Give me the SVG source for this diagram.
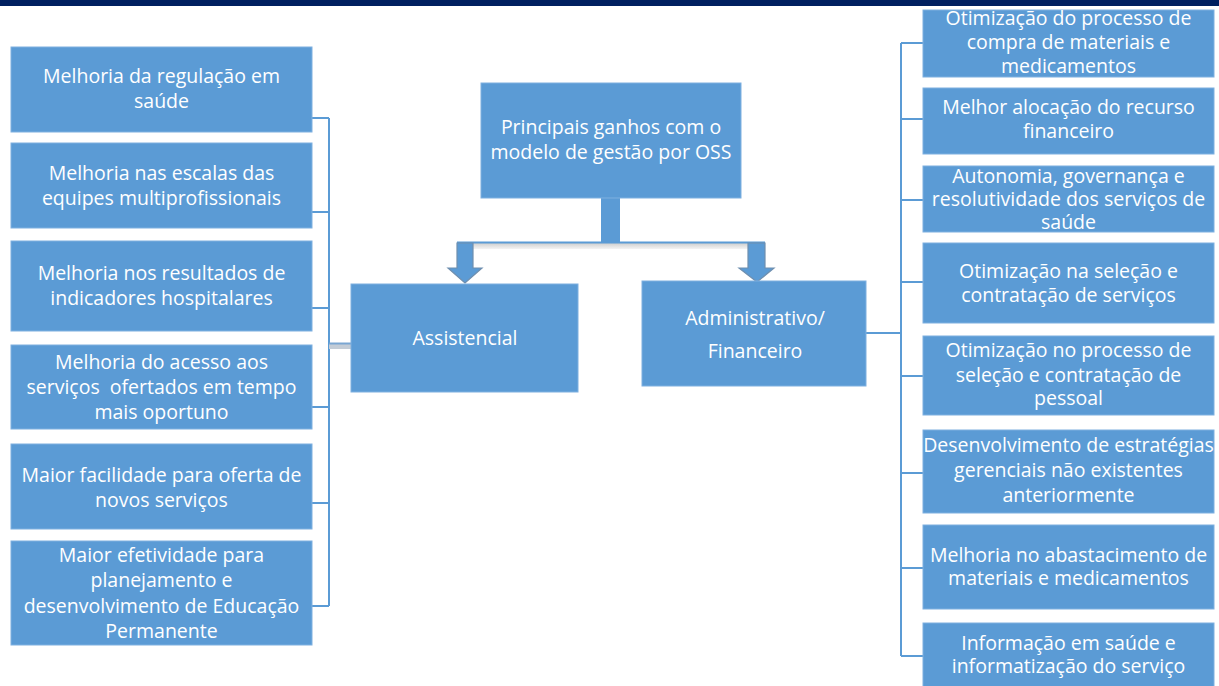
<svg xmlns="http://www.w3.org/2000/svg" width="1219" height="686" viewBox="0 0 1219 686">
<defs>
<style>
.box{fill:#5b9bd5;stroke:#7fb0e0;stroke-width:1}
.t{font-family:"Open Sans","Liberation Sans",sans-serif;font-size:19.5px;fill:#ffffff;text-anchor:middle}
.ln{stroke:#5b9bd5;stroke-width:2;fill:none}
.arr{fill:#5b9bd5;stroke:#6f8faf;stroke-width:1.2}
</style>
<linearGradient id="sh" x1="0" y1="0" x2="0" y2="1">
<stop offset="0" stop-color="#c8c8c8"/>
<stop offset="1" stop-color="#f4f4f4"/>
</linearGradient>
</defs>
<rect x="0" y="0" width="1219" height="686" fill="#ffffff"/>
<rect x="0" y="0" width="1219" height="6" fill="#002060"/>

<g id="connectors">
<rect x="601" y="197" width="19" height="46" fill="#5b9bd5"/>
<rect x="457" y="242" width="308" height="7" fill="url(#sh)"/>
<line x1="457" y1="242.5" x2="765" y2="242.5" stroke="#5b9bd5" stroke-width="2"/>
<polygon class="arr" points="457,243 473,243 473,268 482,268 465,283 448,268 457,268"/>
<polygon class="arr" points="748,243 765,243 765,268 774,268 757,282 739,268 748,268"/>
<path class="ln" d="M312,118 H329 M312,212 H329 M312,308 H329 M312,407 H329 M312,503 H329 M312,606 H329 M329,118 V606"/>
<rect x="329" y="343" width="22" height="6" fill="#c3ccd6"/>
<line x1="329" y1="343.5" x2="351" y2="343.5" stroke="#7aa6d2" stroke-width="2"/>
<path class="ln" d="M866,333 H901 M901,43 V656 M901,43 H923 M901,119 H923 M901,200 H923 M901,282 H923 M901,376 H923 M901,473 H923 M901,568 H923 M901,656 H923" stroke-width="2.5"/>
</g>

<g id="root">
<rect class="box" x="481" y="83" width="260" height="115"/>
<text class="t" x="611" y="134">Principais ganhos com o</text>
<text class="t" x="611" y="159">modelo de gestão por OSS</text>
</g>

<g id="assistencial">
<rect class="box" x="351" y="284" width="227" height="108"/>
<text class="t" x="465" y="345">Assistencial</text>
</g>

<g id="administrativo">
<rect class="box" x="642" y="281" width="224" height="105"/>
<text class="t" x="755" y="325">Administrativo/</text>
<text class="t" x="755" y="358">Financeiro</text>
</g>

<g id="l1">
<rect class="box" x="11" y="47" width="301" height="85"/>
<text class="t" x="161.5" y="83">Melhoria da regulação em</text>
<text class="t" x="161.5" y="108">saúde</text>
</g>
<g id="l2">
<rect class="box" x="11" y="143" width="301" height="85"/>
<text class="t" x="161.5" y="180">Melhoria nas escalas das</text>
<text class="t" x="161.5" y="205">equipes multiprofissionais</text>
</g>
<g id="l3">
<rect class="box" x="11" y="241" width="301" height="90"/>
<text class="t" x="161.5" y="280">Melhoria nos resultados de</text>
<text class="t" x="161.5" y="305">indicadores hospitalares</text>
</g>
<g id="l4">
<rect class="box" x="11" y="345" width="301" height="84"/>
<text class="t" x="161.5" y="369">Melhoria do acesso aos</text>
<text class="t" x="161.5" y="394" xml:space="preserve">serviços  ofertados em tempo</text>
<text class="t" x="161.5" y="419">mais oportuno</text>
</g>
<g id="l5">
<rect class="box" x="11" y="444" width="301" height="85"/>
<text class="t" x="161.5" y="482">Maior facilidade para oferta de</text>
<text class="t" x="161.5" y="507">novos serviços</text>
</g>
<g id="l6">
<rect class="box" x="11" y="541" width="301" height="104"/>
<text class="t" x="161.5" y="562">Maior efetividade para</text>
<text class="t" x="161.5" y="587">planejamento e</text>
<text class="t" x="161.5" y="613">desenvolvimento de Educação</text>
<text class="t" x="161.5" y="638">Permanente</text>
</g>

<g id="r1">
<rect class="box" x="923" y="10" width="291" height="67"/>
<text class="t" x="1068.5" y="25">Otimização do processo de</text>
<text class="t" x="1068.5" y="49">compra de materiais e</text>
<text class="t" x="1068.5" y="73">medicamentos</text>
</g>
<g id="r2">
<rect class="box" x="923" y="88" width="291" height="66"/>
<text class="t" x="1068.5" y="114">Melhor alocação do recurso</text>
<text class="t" x="1068.5" y="138">financeiro</text>
</g>
<g id="r3">
<rect class="box" x="923" y="166" width="291" height="66"/>
<text class="t" x="1068.5" y="183">Autonomia, governança e</text>
<text class="t" x="1068.5" y="206">resolutividade dos serviços de</text>
<text class="t" x="1068.5" y="229">saúde</text>
</g>
<g id="r4">
<rect class="box" x="923" y="243" width="291" height="80"/>
<text class="t" x="1068.5" y="278">Otimização na seleção e</text>
<text class="t" x="1068.5" y="302">contratação de serviços</text>
</g>
<g id="r5">
<rect class="box" x="923" y="336" width="291" height="79"/>
<text class="t" x="1068.5" y="357">Otimização no processo de</text>
<text class="t" x="1068.5" y="382">seleção e contratação de</text>
<text class="t" x="1068.5" y="405">pessoal</text>
</g>
<g id="r6">
<rect class="box" x="923" y="430" width="291" height="83"/>
<text class="t" x="1068.5" y="452">Desenvolvimento de estratégias</text>
<text class="t" x="1068.5" y="477">gerenciais não existentes</text>
<text class="t" x="1068.5" y="502">anteriormente</text>
</g>
<g id="r7">
<rect class="box" x="923" y="525" width="291" height="84"/>
<text class="t" x="1068.5" y="562">Melhoria no abastacimento de</text>
<text class="t" x="1068.5" y="585">materiais e medicamentos</text>
</g>
<g id="r8">
<rect class="box" x="923" y="623" width="291" height="70"/>
<text class="t" x="1068.5" y="650">Informação em saúde e</text>
<text class="t" x="1068.5" y="673">informatização do serviço</text>
</g>
</svg>
